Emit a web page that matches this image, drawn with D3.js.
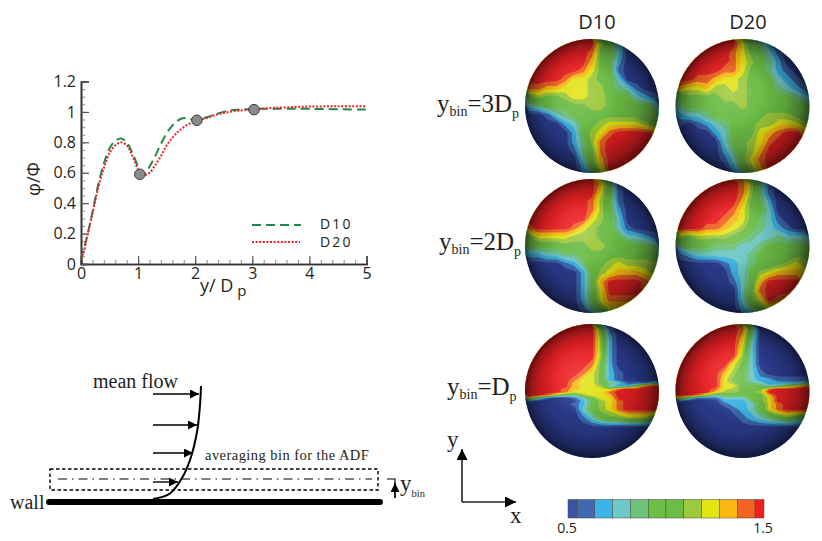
<!DOCTYPE html>
<html lang="en">
<head>
<meta charset="UTF-8">
<title>Particle concentration and ADF near the wall</title>
<script src="https://cdnjs.cloudflare.com/ajax/libs/d3/7.8.5/d3.min.js"></script>
<style>
  html, body { margin: 0; padding: 0; background: #fff; }
  svg { display: block; }
  .sans { font-family: "Open Sans", "Noto Sans", sans-serif; fill: #231f20; }
  .serif { font-family: "Liberation Serif", serif; fill: #231f20; }
</style>
</head>
<body>
<svg id="fig" width="822" height="541"></svg>
<script>
// profile curves
const yD10 = [0, 0.1, 0.2, 0.3, 0.4, 0.5, 0.6, 0.7, 0.8, 0.9, 1.0, 1.05, 1.1, 1.2, 1.3, 1.4, 1.5, 1.6, 1.7, 1.8, 1.9, 2.0, 2.2, 2.4, 2.6, 2.8, 3.0, 3.3, 4.0, 5.0];
const phiD10 = [0.03, 0.17, 0.34, 0.52, 0.66, 0.76, 0.81, 0.825, 0.80, 0.73, 0.64, 0.60, 0.59, 0.64, 0.71, 0.79, 0.86, 0.91, 0.945, 0.96, 0.955, 0.945, 0.965, 0.99, 1.01, 1.015, 1.02, 1.02, 1.02, 1.015];
const yD20 = [0, 0.05, 0.1, 0.2, 0.3, 0.4, 0.5, 0.6, 0.7, 0.8, 0.9, 1.0, 1.05, 1.1, 1.2, 1.3, 1.4, 1.5, 1.6, 1.7, 1.8, 2.0, 2.2, 2.4, 2.6, 2.8, 3.0, 3.3, 3.6, 4.0, 4.5, 5.0];
const phiD20 = [0.03, 0.08, 0.17, 0.33, 0.50, 0.63, 0.73, 0.78, 0.80, 0.78, 0.71, 0.62, 0.595, 0.585, 0.60, 0.65, 0.71, 0.78, 0.83, 0.87, 0.90, 0.94, 0.96, 0.985, 1.0, 1.01, 1.015, 1.025, 1.03, 1.035, 1.037, 1.037];
const markerY = [1.03, 2.03, 3.03];
const markerPhi = [0.59, 0.945, 1.015];
const xTicks = [0, 1, 2, 3, 4, 5];
const yTicks = [0, 0.2, 0.4, 0.6, 0.8, 1, 1.2];

// colour bar levels
const levelColors = ["#2d3e94", "#3f68b1", "#3cb4e7", "#6fc9c9", "#6ec27a", "#6cbf45", "#6cbd45", "#9dca3a", "#e3e414", "#fdb913", "#f26222", "#ee2024"];
const levelValues = [0.5, 0.591, 0.682, 0.773, 0.864, 0.955, 1.045, 1.136, 1.227, 1.318, 1.409, 1.5];

// ADF colour level per grid cell, one grid per sphere (0 = 0.5 ... 11 = 1.5)
const adfD10Bin3 = [
  [11,11,11,11,11,11,11,11,7,5,3,0,0,0,0],
  [11,11,11,11,11,11,11,10,6,5,3,0,0,0,0],
  [11,11,11,11,11,11,11,9,6,5,2,0,0,0,0],
  [11,11,11,11,11,11,10,8,6,5,1,0,0,0,0],
  [11,11,11,11,10,8,8,7,6,5,3,0,0,0,0],
  [10,10,9,9,8,8,8,7,7,5,4,3,1,0,0],
  [6,7,6,6,7,8,8,7,7,6,5,5,3,2,1],
  [3,4,5,5,5,6,6,7,7,6,6,6,5,5,4],
  [0,0,1,3,4,5,5,6,6,6,6,6,6,5,5],
  [0,0,0,0,2,3,5,6,7,8,8,8,8,7,6],
  [0,0,0,0,0,2,5,7,8,10,11,11,11,11,10],
  [0,0,0,0,0,2,4,7,10,11,11,11,11,11,11],
  [0,0,0,0,0,1,4,6,10,11,11,11,11,11,11],
  [0,0,0,0,0,0,3,6,9,11,11,11,11,11,11],
  [0,0,0,0,0,0,2,5,8,11,11,11,11,11,11]
];
const adfD20Bin3 = [
  [11,11,11,11,11,11,11,8,5,4,2,0,0,0,0],
  [11,11,11,11,11,11,10,8,6,5,3,1,0,0,0],
  [11,11,11,11,11,11,10,8,7,5,4,2,0,0,0],
  [11,11,11,11,11,10,10,8,6,5,4,2,1,0,0],
  [11,11,10,10,9,8,8,7,6,5,5,3,2,1,0],
  [9,8,8,9,7,7,8,7,6,5,5,4,3,2,1],
  [5,6,6,6,6,7,7,7,6,5,5,5,5,4,3],
  [4,5,5,5,5,6,6,7,6,6,5,5,5,5,5],
  [2,3,3,4,5,5,6,6,6,6,7,7,7,6,5],
  [1,0,1,2,3,4,5,6,6,7,7,8,8,8,7],
  [0,0,0,0,2,3,5,6,6,8,9,10,11,11,9],
  [0,0,0,0,0,3,5,6,7,8,10,11,11,11,11],
  [0,0,0,0,0,2,4,6,7,9,11,11,11,11,11],
  [0,0,0,0,0,1,3,6,8,10,11,11,11,11,11],
  [0,0,0,0,0,0,2,5,7,9,11,11,11,11,11]
];
const adfD10Bin2 = [
  [11,11,11,11,11,11,11,11,9,5,1,0,0,0,0],
  [11,11,11,11,11,11,11,11,8,5,1,0,0,0,0],
  [11,11,11,11,11,11,11,10,7,5,1,0,0,0,0],
  [11,11,11,11,11,11,11,10,7,5,2,0,0,0,0],
  [11,11,11,11,11,11,11,8,7,5,3,0,0,0,0],
  [10,11,11,11,11,10,8,7,6,5,3,1,0,0,0],
  [6,8,8,8,8,7,7,7,6,6,5,3,3,2,1],
  [5,5,5,5,6,6,6,7,7,6,6,6,5,5,4],
  [2,2,3,3,4,4,5,6,6,6,6,6,6,6,5],
  [0,0,0,0,1,2,4,6,6,7,8,7,7,7,7],
  [0,0,0,0,0,0,2,5,7,8,9,9,9,8,7],
  [0,0,0,0,0,0,2,5,9,11,11,11,11,10,9],
  [0,0,0,0,0,0,2,5,8,11,11,11,11,10,9],
  [0,0,0,0,0,0,2,5,8,10,10,10,10,9,9],
  [0,0,0,0,0,0,1,4,6,8,8,8,8,8,8]
];
const adfD20Bin2 = [
  [11,11,11,11,11,11,11,10,7,4,1,0,0,0,0],
  [11,11,11,11,11,11,11,10,7,4,1,0,0,0,0],
  [11,11,11,11,11,11,11,9,6,5,2,0,0,0,0],
  [11,11,11,11,11,11,10,8,6,5,3,0,0,0,0],
  [11,11,11,11,11,10,9,8,6,4,3,1,0,0,0],
  [11,11,11,10,10,9,8,7,5,4,3,2,1,0,0],
  [7,6,7,7,7,7,6,5,4,3,3,4,3,3,3],
  [4,5,5,5,4,4,4,3,3,4,5,5,5,5,5],
  [1,2,3,3,3,3,3,3,4,5,5,5,5,6,6],
  [0,0,0,0,0,1,2,3,4,5,5,6,7,8,7],
  [0,0,0,0,0,0,2,3,5,7,8,9,9,9,8],
  [0,0,0,0,0,0,1,3,5,9,11,11,11,11,9],
  [0,0,0,0,0,0,0,3,6,10,11,11,11,10,9],
  [0,0,0,0,0,0,0,3,6,8,11,10,9,9,9],
  [0,0,0,0,0,0,0,2,4,6,8,8,8,8,8]
];
// bin = Dp: these two have extra rows around the sharp line at the equator
const adfD10Bin1 = [
  [11,11,11,11,11,11,11,11,6,1,0,0,0,0,0],
  [11,11,11,11,11,11,11,11,7,2,0,0,0,0,0],
  [11,11,11,11,11,11,11,11,7,2,0,0,0,0,0],
  [11,11,11,11,11,11,11,11,7,2,0,0,0,0,0],
  [11,11,11,11,11,11,11,10,6,2,0,0,0,0,0],
  [11,11,11,11,11,11,10,8,6,2,1,0,0,0,0],
  [11,11,11,11,11,10,8,8,6,2,1,0,0,0,0],
  [11,11,11,11,11,9,8,8,6,4,3,1,1,1,4],
  [11,11,11,11,11,9,8,8,7,3,2,2,6,10,11],
  [11,11,11,11,10,9,8,8,8,7,10,11,11,11,11],
  [11,11,11,11,10,8,8,8,8,10,11,11,11,11,11],
  [11,11,10,7,5,4,7,8,8,9,11,11,11,11,11],
  [9,4,1,0,0,1,3,6,8,8,11,11,11,11,11],
  [1,0,0,0,0,0,2,5,7,8,10,11,11,11,11],
  [0,0,0,0,0,1,2,5,7,8,10,11,11,11,11],
  [0,0,0,0,0,0,3,5,7,8,10,11,11,11,11],
  [0,0,0,0,0,0,1,3,5,6,6,7,7,7,5],
  [0,0,0,0,0,0,0,0,0,0,0,0,0,0,0],
  [0,0,0,0,0,0,0,0,0,0,0,0,0,0,0],
  [0,0,0,0,0,0,0,0,0,0,0,0,0,0,0],
  [0,0,0,0,0,0,0,0,0,0,0,0,0,0,0]
];
const adfD20Bin1 = [
  [11,11,11,11,11,11,11,10,5,0,0,0,0,0,0],
  [11,11,11,11,11,11,11,9,4,0,0,0,0,0,0],
  [11,11,11,11,11,11,11,8,3,0,0,0,0,0,0],
  [11,11,11,11,11,11,11,7,3,0,0,0,0,0,0],
  [11,11,11,11,11,11,8,6,3,0,0,0,0,0,0],
  [11,11,11,11,11,9,7,5,3,1,0,0,0,0,0],
  [11,11,11,11,11,8,6,5,3,2,2,1,1,1,1],
  [11,11,11,11,11,8,7,5,4,3,2,2,2,2,4],
  [11,11,11,11,11,8,8,6,5,5,3,4,6,8,10],
  [11,11,11,11,10,8,7,6,5,6,10,11,11,11,11],
  [11,11,11,11,9,7,7,6,6,7,11,11,11,11,11],
  [11,11,10,7,4,5,5,5,6,6,9,11,11,11,11],
  [8,4,1,1,1,3,3,3,5,6,8,11,11,11,11],
  [1,0,0,0,0,2,2,2,4,6,8,11,11,11,11],
  [0,0,0,0,0,1,2,2,3,5,8,10,11,11,11],
  [0,0,0,0,0,0,1,2,3,5,8,10,11,11,11],
  [0,0,0,0,0,0,0,1,2,3,4,5,6,5,4],
  [0,0,0,0,0,0,0,0,0,0,0,0,0,0,0],
  [0,0,0,0,0,0,0,0,0,0,0,0,0,0,0],
  [0,0,0,0,0,0,0,0,0,0,0,0,0,0,0],
  [0,0,0,0,0,0,0,0,0,0,0,0,0,0,0]
];

const svg = d3.select("#fig");
const defs = svg.append("defs");

// ---- line chart ----
const x = d3.scaleLinear().domain([0, 5]).range([81, 366.5]);
const y = d3.scaleLinear().domain([0, 1.2]).range([264, 81.5]);

const plot = svg.append("g");
const gx = plot.append("g").attr("transform", "translate(0,264)");
gx.call(d3.axisBottom(x).tickValues(d3.range(0, 5.01, 0.2)).tickSize(-4).tickFormat(""));
const gx2 = plot.append("g").attr("transform", "translate(0,264)");
gx2.call(d3.axisBottom(x).tickValues(xTicks).tickSize(-8).tickPadding(4).tickFormat(d3.format("d")));
const gy = plot.append("g").attr("transform", "translate(81,0)");
gy.call(d3.axisLeft(y).tickValues(d3.range(0, 1.21, 0.05)).tickSize(-4).tickFormat(""));
const gy2 = plot.append("g").attr("transform", "translate(81,0)");
gy2.call(d3.axisLeft(y).tickValues(yTicks).tickSize(-8).tickPadding(5).tickFormat(d => d));
plot.selectAll("path.domain").attr("stroke", "#333").attr("stroke-width", 1.6);
plot.selectAll(".tick line").attr("stroke", "#555").attr("stroke-width", 1.2);
[gx, gy].forEach(g => g.selectAll(".tick line").attr("stroke", "#999"));
[gx2, gy2].forEach(g => g.selectAll(".tick text")
  .attr("class", "sans").style("font-size", "16px").attr("fill", "#231f20"));
gy2.selectAll(".tick text").attr("x", -5);

const line = d3.line().curve(d3.curveCatmullRom);
const toPts = (xs, ys) => xs.map((d, i) => [x(d), y(ys[i])]);

plot.append("path").attr("d", line(toPts(yD10, phiD10)))
  .attr("fill", "none").attr("stroke", "#1f8a44").attr("stroke-width", 2).attr("stroke-dasharray", "9,5");
plot.append("path").attr("d", line(toPts(yD20, phiD20)))
  .attr("fill", "none").attr("stroke", "#ee2024").attr("stroke-width", 2).attr("stroke-dasharray", "2,1.6");

plot.selectAll("circle.mark").data(markerY).enter().append("circle")
  .attr("cx", d => x(d)).attr("cy", (d, i) => y(markerPhi[i])).attr("r", 5.3)
  .attr("fill", "#8a8a8a").attr("stroke", "#333").attr("stroke-width", 0.9);

// legend
plot.append("line").attr("x1", 252).attr("x2", 301).attr("y1", 225).attr("y2", 225)
  .attr("stroke", "#1f8a44").attr("stroke-width", 2).attr("stroke-dasharray", "9,5");
plot.append("line").attr("x1", 252).attr("x2", 300).attr("y1", 242).attr("y2", 242)
  .attr("stroke", "#ee2024").attr("stroke-width", 2).attr("stroke-dasharray", "2,1.6");
[["D10", 229], ["D20", 247]].forEach(l => {
  plot.append("text").attr("class", "sans").attr("x", 320).attr("y", l[1])
    .style("font-size", "14px").style("letter-spacing", "2.2px").text(l[0]);
});

// axis titles
plot.append("text").attr("class", "sans")
  .attr("transform", "translate(40,179) rotate(-90)").attr("text-anchor", "middle")
  .style("font-size", "18px").text("φ/Φ");
const xTitle = plot.append("text").attr("class", "sans").attr("x", 200).attr("y", 292).style("font-size", "18px");
xTitle.append("tspan").text("y/ D");
xTitle.append("tspan").attr("dx", 4).attr("dy", 4).style("font-size", "15px").text("p");

// ---- spheres ----
const gridCols = 15;
const sphereSize = 134;
const coarseRows = d3.range(15).map(j => (j + 0.5) * sphereSize / 15);
const fineRows = [4.5, 13.4, 22.3, 31.3, 40.2, 49.1, 56, 59, 62, 65, 68, 71, 74, 77, 80, 85.3, 94.3, 103.3, 112.3, 121.3, 130.3];

const spheres = [
  { grid: adfD10Bin3, cx: 592, cy: 106, rows: coarseRows },
  { grid: adfD20Bin3, cx: 742.5, cy: 106, rows: coarseRows },
  { grid: adfD10Bin2, cx: 592, cy: 246, rows: coarseRows },
  { grid: adfD20Bin2, cx: 742.5, cy: 246, rows: coarseRows },
  { grid: adfD10Bin1, cx: 592, cy: 391, rows: fineRows },
  { grid: adfD20Bin1, cx: 742.5, cy: 391, rows: fineRows }
];

// light comes a bit from upper left, rim goes dark
const shade = defs.append("radialGradient").attr("id", "shade")
  .attr("cx", "50%").attr("cy", "50%").attr("r", "50%").attr("fx", "40%").attr("fy", "37%");
[[0, 0], [0.4, 0.02], [0.7, 0.16], [0.88, 0.36], [1, 0.62]].forEach(s => {
  shade.append("stop").attr("offset", s[0]).attr("stop-color", "#000").attr("stop-opacity", s[1]);
});
const glow = defs.append("radialGradient").attr("id", "glow")
  .attr("cx", "42%").attr("cy", "40%").attr("r", "28%");
[[0, 0.16], [1, 0]].forEach(s => {
  glow.append("stop").attr("offset", s[0]).attr("stop-color", "#fff").attr("stop-opacity", s[1]);
});

const thresholds = d3.range(1, levelColors.length).map(d => d - 0.5);

spheres.forEach((s, k) => {
  const r = sphereSize / 2;
  const nRows = s.grid.length;
  const colX = d3.scaleLinear().domain([0, gridCols]).range([s.cx - r, s.cx + r]);
  const rowY = d3.scaleLinear()
    .domain([0, ...d3.range(nRows).map(j => j + 0.5), nRows])
    .range([s.cy - r, ...s.rows.map(v => s.cy - r + v), s.cy + r]);
  const path = d3.geoPath(d3.geoTransform({
    point(px, py) { this.stream.point(colX(px), rowY(py)); }
  }));
  const bands = d3.contours().size([gridCols, nRows]).thresholds(thresholds)(s.grid.flat());

  defs.append("clipPath").attr("id", "clip" + k).append("circle")
    .attr("cx", s.cx).attr("cy", s.cy).attr("r", r);
  const g = svg.append("g").attr("clip-path", "url(#clip" + k + ")");
  g.append("rect").attr("x", s.cx - r).attr("y", s.cy - r)
    .attr("width", sphereSize).attr("height", sphereSize).attr("fill", levelColors[0]);
  g.selectAll("path").data(bands).enter().append("path")
    .attr("d", path).attr("fill", d => levelColors[d.value + 0.5]);
  g.append("circle").attr("cx", s.cx).attr("cy", s.cy).attr("r", r).attr("fill", "url(#glow)");
  g.append("circle").attr("cx", s.cx).attr("cy", s.cy).attr("r", r).attr("fill", "url(#shade)");
});

// column and row titles
[["D10", 597], ["D20", 748]].forEach(t => {
  svg.append("text").attr("class", "sans").attr("x", t[1]).attr("y", 29)
    .attr("text-anchor", "middle").style("font-size", "20px").text(t[0]);
});
[["=3D", 437, 112], ["=2D", 439, 250], ["=D", 447, 395]].forEach(t => {
  const lab = svg.append("text").attr("class", "serif").attr("x", t[1]).attr("y", t[2]).style("font-size", "25px");
  lab.append("tspan").text("y");
  lab.append("tspan").attr("dy", 4).style("font-size", "14px").text("bin");
  lab.append("tspan").attr("dy", -4).text(t[0]);
  lab.append("tspan").attr("dy", 6).style("font-size", "14px").text("p");
});

// ---- colour bar ----
const cbar = d3.scaleLinear().domain([0.5, 1.5]).range([568, 764]);
const halfBin = (levelValues[1] - levelValues[0]) / 2;
svg.append("g").selectAll("rect").data(levelValues).enter().append("rect")
  .attr("x", d => cbar(Math.max(0.5, d - halfBin)))
  .attr("y", 499.5).attr("height", 18.5)
  .attr("width", d => cbar(Math.min(1.5, d + halfBin)) - cbar(Math.max(0.5, d - halfBin)))
  .attr("fill", (d, i) => i === 0 ? "#3a53a4" : levelColors[i])
  .attr("stroke", "#444").attr("stroke-width", 0.5);
[0.5, 1.5].forEach(v => {
  svg.append("text").attr("class", "sans").attr("x", cbar(v) - 1).attr("y", 533)
    .attr("text-anchor", "middle").style("font-size", "14px").text(v.toFixed(1));
});

// ---- xy arrows ----
const arrowHead = (id, w, h) => {
  defs.append("marker").attr("id", id).attr("viewBox", "0 0 10 10").attr("refX", 10).attr("refY", 5)
    .attr("markerUnits", "userSpaceOnUse").attr("markerWidth", w).attr("markerHeight", h).attr("orient", "auto")
    .append("path").attr("d", "M0,0L10,5L0,10Z").attr("fill", "#000");
};
arrowHead("headBig", 20, 11);
arrowHead("headSmall", 9, 9);

svg.append("line").attr("x1", 462).attr("y1", 502).attr("x2", 462).attr("y2", 449)
  .attr("stroke", "#222").attr("stroke-width", 1.6).attr("marker-end", "url(#headBig)");
svg.append("line").attr("x1", 462).attr("y1", 502).attr("x2", 516).attr("y2", 502)
  .attr("stroke", "#222").attr("stroke-width", 1.6).attr("marker-end", "url(#headBig)");
svg.append("text").attr("class", "serif").attr("x", 447).attr("y", 447).style("font-size", "23px").text("y");
svg.append("text").attr("class", "serif").attr("x", 510).attr("y", 523).style("font-size", "23px").text("x");

// ---- wall schematic ----
const profilePts = [[153, 499], [170, 493.5], [182, 478], [190, 460], [197, 432], [200, 405], [201, 386]];
const arrowRows = [[394, 199], [425, 197], [453, 193], [482, 178]];
const schem = svg.append("g");

schem.append("rect").attr("x", 50).attr("y", 469).attr("width", 328).attr("height", 21)
  .attr("fill", "none").attr("stroke", "#000").attr("stroke-width", 1.4).attr("stroke-dasharray", "3.5,2.5");
schem.append("line").attr("x1", 58).attr("x2", 372).attr("y1", 479).attr("y2", 479)
  .attr("stroke", "#000").attr("stroke-width", 1).attr("stroke-dasharray", "9,5,1.5,5");
schem.append("line").attr("x1", 49).attr("x2", 380).attr("y1", 502).attr("y2", 502)
  .attr("stroke", "#000").attr("stroke-width", 6).attr("stroke-linecap", "round");
schem.append("path").attr("d", d3.line().curve(d3.curveCatmullRom)(profilePts))
  .attr("fill", "none").attr("stroke", "#000").attr("stroke-width", 2);
schem.selectAll("line.vel").data(arrowRows).enter().append("line")
  .attr("x1", 153).attr("x2", d => d[1]).attr("y1", d => d[0]).attr("y2", d => d[0])
  .attr("stroke", "#000").attr("stroke-width", 1.4).attr("marker-end", "url(#headSmall)");

schem.append("text").attr("class", "serif").attr("x", 93).attr("y", 388).style("font-size", "20px").text("mean flow");
schem.append("text").attr("class", "serif").attr("x", 10).attr("y", 509).style("font-size", "20px").text("wall");
schem.append("text").attr("class", "serif").attr("x", 205).attr("y", 460)
  .style("font-size", "14.5px").style("letter-spacing", "0.45px").text("averaging bin for the ADF");
// y_bin bracket
schem.append("path").attr("d", "M387,479H395V498").attr("fill", "none").attr("stroke", "#000").attr("stroke-width", 1.2);
schem.append("line").attr("x1", 395).attr("x2", 395).attr("y1", 498).attr("y2", 483)
  .attr("stroke", "#000").attr("stroke-width", 1.4).attr("marker-end", "url(#headSmall)");
const yb = schem.append("text").attr("class", "serif").attr("x", 400).attr("y", 491).style("font-size", "23px");
yb.append("tspan").text("y");
yb.append("tspan").attr("dy", 6).style("font-size", "10.5px").text("bin");
</script>
</body>
</html>
